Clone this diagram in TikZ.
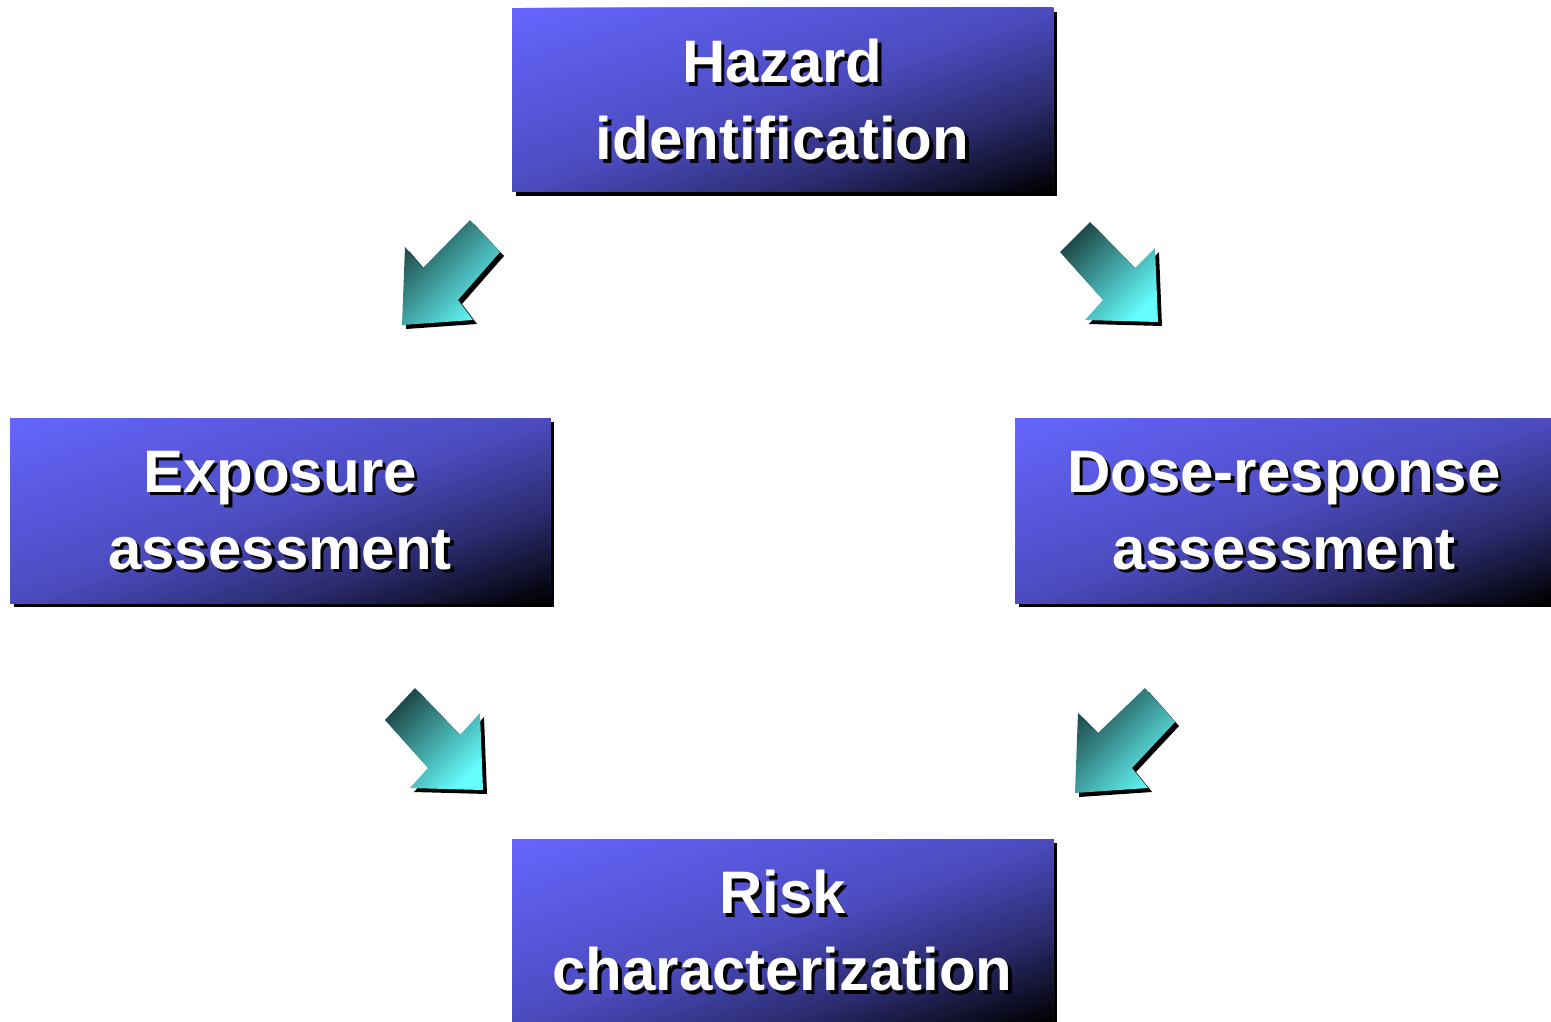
\documentclass[tikz,border=0pt]{standalone}
\usepackage{fontspec}
\setmainfont{Liberation Sans}
\usetikzlibrary{calc}
\definecolor{aDark}{HTML}{1A3E3E}
\definecolor{aLight}{HTML}{66FFFF}
\pgfdeclarehorizontalshading{arrowshade}{100bp}{color(0bp)=(aDark); color(22bp)=(aDark); color(76bp)=(aLight); color(100bp)=(aLight)}
\tikzset{
  box/.style={inner sep=0pt, outer sep=0pt},
  boxshadow/.style={fill=black},
  lbl/.style={text=white, font=\fontsize{60}{77}\selectfont\bfseries, align=center, inner sep=0pt},
  lblsh/.style={lbl, text=black},
  blockarrow/.style={shading=arrowshade, shading angle=-45}
}
% diagonal gradient fill of a box node: bright top-left, black bottom-right
\newcommand\gradbox[1]{%
  \fill[boxshadow] ([shift={(4,4)}]#1.north west) rectangle ([shift={(4,4)}]#1.south east);
  \begin{scope}
    \clip (#1.north west) rectangle (#1.south east);
    \foreach \gbi in {0,...,99}{
      \pgfmathsetmacro\gbt{(\gbi+0.5)/100}
      \pgfmathtruncatemacro\gbr{ifthenelse(\gbt<0.5, 102-52*\gbt, ifthenelse(\gbt<0.75, 76-128*(\gbt-0.5), 44-176*(\gbt-0.75)))}
      \pgfmathtruncatemacro\gbb{ifthenelse(\gbt<0.5, 255-126*\gbt, ifthenelse(\gbt<0.75, 192-320*(\gbt-0.5), 112-448*(\gbt-0.75)))}
      \definecolor{gbc}{RGB}{\gbr,\gbr,\gbb}
      \pgfmathsetmacro\gba{2*\gbi/100}
      \fill[gbc] ($(#1.north west)!\gba!(#1.north east)$) -- ($(#1.north west)!2!(#1.north east)$)
        -- ($(#1.north west)!2!(#1.south east)$) -- ($(#1.north west)!2!(#1.south west)$)
        -- ($(#1.north west)!\gba!(#1.south west)$) -- cycle;
    }
  \end{scope}}
\begin{document}
\begin{tikzpicture}[x=1pt,y=-1pt]
\useasboundingbox (0,0) rectangle (1551,1022);
% boxes
\node[box, minimum width=541pt, minimum height=184pt] (haz) at (782.5,100) {};
\node[box, minimum width=540pt, minimum height=185pt] (exp) at (280,510.5) {};
\node[box, minimum width=538pt, minimum height=185pt] (dose) at (1284,510.5) {};
\node[box, minimum width=541pt, minimum height=184pt] (risk) at (782.5,931) {};
\foreach \n in {haz,exp,dose,risk}{\gradbox{\n}}
% labels
\foreach \n/\t in {haz/{Hazard\\identification}, exp/{Exposure\\assessment}, dose/{Dose-response\\assessment}, risk/{Risk\\characterization}}{
  \node[lblsh] (\n-sh) at ([xshift=3.5pt,yshift=-3.5pt]\n.center) {\t};
  \node[lbl] (\n-t) at (\n.center) {\t};
}
% block arrows
\foreach \pts in {
  {(470,220) -- (500,252) -- (458,300) -- (473,320) -- (402,325) -- (405,247) -- (423,268)},
  {(1090,222) -- (1060,252) -- (1103,300) -- (1085,320) -- (1158,322) -- (1155,248) -- (1135,268)},
  {(415,688) -- (385,720) -- (428,768) -- (410,788) -- (483,790) -- (480,713) -- (460,735)},
  {(1145,688) -- (1175,722) -- (1132,768) -- (1148,788) -- (1075,793) -- (1078,713) -- (1098,733)}}{
  \begin{scope}[shift={(4,4)}]
    \fill[black] \pts -- cycle;
  \end{scope}
  \path[blockarrow] \pts -- cycle;
}
\end{tikzpicture}
\end{document}
